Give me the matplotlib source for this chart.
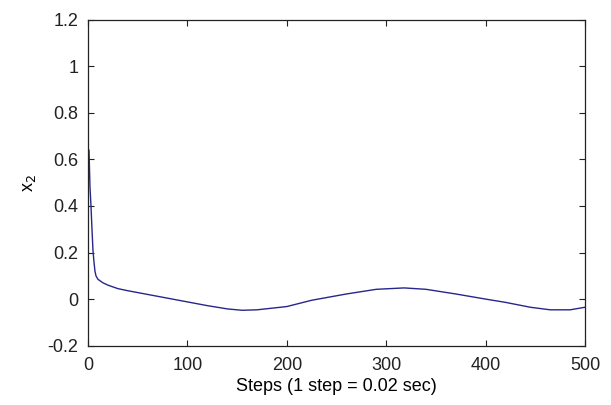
import numpy as np
import matplotlib
matplotlib.use("Agg")
import matplotlib.pyplot as plt

# x2 response
steps = [0, 1, 2, 3, 4, 5, 6, 7, 8, 10, 15, 20, 30, 40, 50, 60, 80, 100,
         120, 140, 155, 170, 200, 225, 260, 290, 318, 340, 370, 400, 420,
         445, 465, 485, 500]
x2 = [0.64, 0.64, 0.48, 0.40, 0.30, 0.21, 0.16, 0.12, 0.10, 0.085, 0.07,
      0.06, 0.045, 0.036, 0.028, 0.02, 0.004, -0.012, -0.028, -0.042,
      -0.048, -0.046, -0.032, -0.005, 0.022, 0.042, 0.048, 0.042, 0.022,
      0.0, -0.014, -0.035, -0.046, -0.046, -0.035]

xticks = [0, 100, 200, 300, 400, 500]
yticks = [-0.2, 0, 0.2, 0.4, 0.6, 0.8, 1, 1.2]
ytick_labels = ["-0.2", "0", "0.2", "0.4", "0.6", "0.8", "1", "1.2"]

plt.rcParams['font.family'] = ['Liberation Sans', 'DejaVu Sans']

fig = plt.figure(figsize=(6.11, 4.05), dpi=100)
ax = fig.add_axes([88 / 611, 1 - 345.7 / 405, (585 - 88) / 611, (345.7 - 19.5) / 405])

ax.plot(steps, x2, color='#26268c', linewidth=1.0)

ax.set_xlim(0, 500)
ax.set_ylim(-0.2, 1.2)
ax.set_xticks(xticks)
ax.set_yticks(yticks)
ax.set_yticklabels(ytick_labels)
ax.tick_params(direction='in', length=4.5, width=0.8, top=True, right=True,
               labelsize=13, colors='#222222')
ax.tick_params(axis='x', pad=8)
ax.tick_params(axis='y', pad=7)
for s in ax.spines.values():
    s.set_linewidth(0.9)
    s.set_color('#222222')

ax.set_xlabel("Steps (1 step = 0.02 sec)", fontsize=13)
ax.set_ylabel("x$_2$", fontsize=13)
ax.xaxis.set_label_coords(0.5, -0.10)
ax.yaxis.set_label_coords(-0.10, 0.5)

fig.savefig("out.png", dpi=100)
